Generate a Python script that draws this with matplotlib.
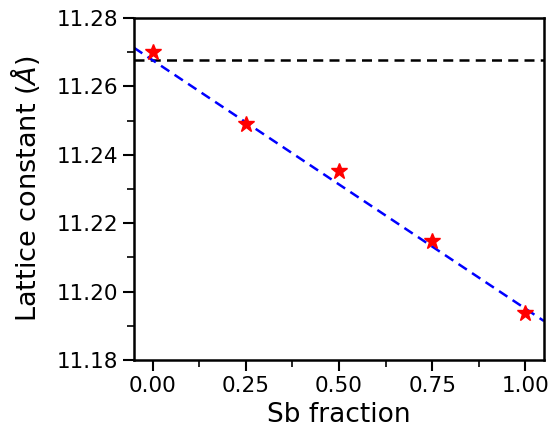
import matplotlib
matplotlib.use("Agg")
import matplotlib.pyplot as plt
from matplotlib.ticker import MultipleLocator

sb_fraction = [0.0, 0.25, 0.5, 0.75, 1.0]
lattice_constant = [11.2700, 11.2490, 11.2353, 11.2148, 11.1938]
fit_x = [-0.05, 1.05]
fit_y = [11.2713, 11.1914]
reference_value = 11.2677

fig = plt.figure(figsize=(5.5, 4.36), dpi=100)
ax = fig.add_axes([0.2436, 0.1743, 0.989 - 0.2436, 0.9587 - 0.1743])

ax.axhline(reference_value, color='black', linestyle='--', linewidth=1.8, dashes=(4, 2.5))
ax.plot(fit_x, fit_y, color='blue', linestyle='--', linewidth=1.8, dashes=(4, 2.5))
ax.plot(sb_fraction, lattice_constant, linestyle='none', marker='*', color='red', markersize=12)

ax.set_xlim(-0.05, 1.05)
ax.set_ylim(11.18, 11.28)
ax.xaxis.set_major_locator(MultipleLocator(0.25))
ax.xaxis.set_minor_locator(MultipleLocator(0.125))
ax.yaxis.set_major_locator(MultipleLocator(0.02))
ax.yaxis.set_minor_locator(MultipleLocator(0.01))
ax.xaxis.set_major_formatter(matplotlib.ticker.FormatStrFormatter('%.2f'))
ax.yaxis.set_major_formatter(matplotlib.ticker.FormatStrFormatter('%.2f'))

for s in ax.spines.values():
    s.set_linewidth(1.8)
ax.tick_params(which='major', length=8, width=1.5, labelsize=15.5)
ax.tick_params(which='minor', length=5, width=1.2)

ax.set_xlabel('Sb fraction', fontsize=19)
ax.set_ylabel(r'Lattice constant ($\AA$)', fontsize=19.5, labelpad=10)

fig.savefig('out.png', dpi=100)
